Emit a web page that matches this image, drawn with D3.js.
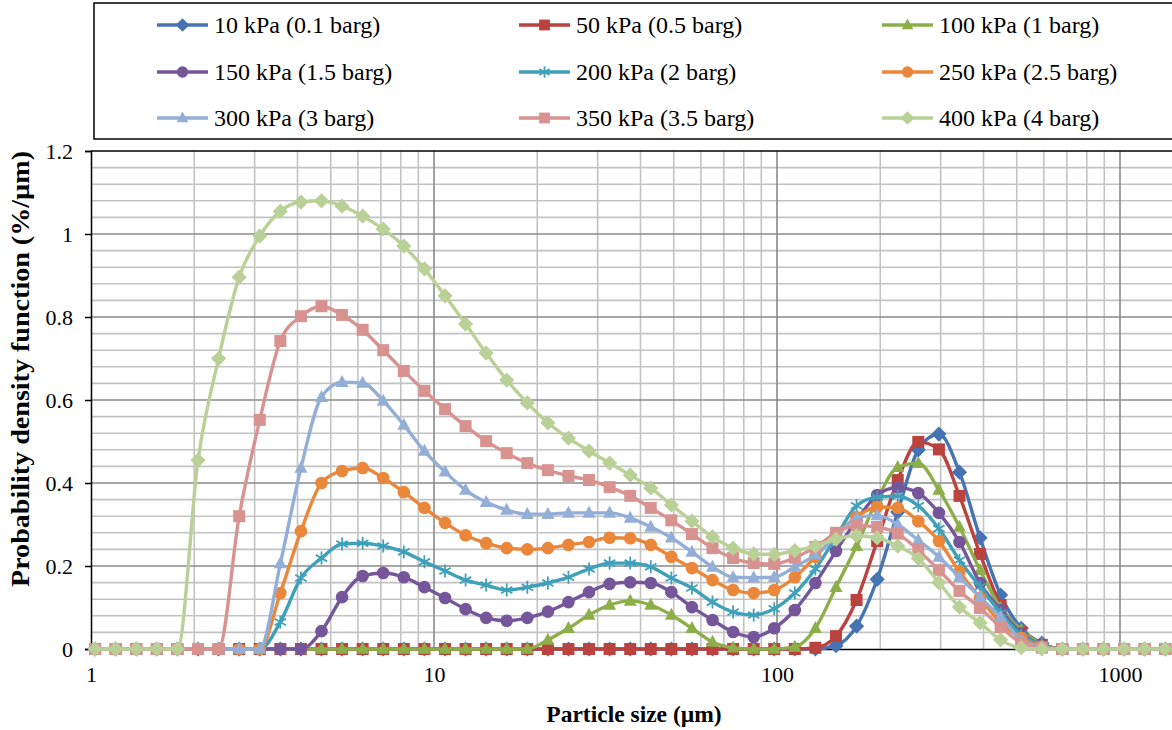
<!DOCTYPE html>
<html><head><meta charset="utf-8">
<script src="https://cdn.jsdelivr.net/npm/d3@7"></script>
<style>body{margin:0;background:#fff}svg{display:block}</style>
</head><body><svg id="c" width="1172" height="730"></svg>
<script>
// Particle sizes (µm), log-spaced instrument bins
const sizes = [1.028,1.180,1.355,1.556,1.786,2.051,2.355,2.704,3.105,3.565,4.093,4.699,5.395,6.194,7.112,8.166,9.376,10.77,12.36,14.19,16.29,18.71,21.48,24.66,28.31,32.51,37.33,42.85,49.20,56.49,64.86,74.47,85.51,98.17,112.7,129.4,148.6,170.6,195.9,224.9,258.2,296.5,340.4,390.8,448.7,515.2,591.6,679.2,779.8,895.4,1028,1180,1355];

const s10  = [0,0,0,0,0,0,0,0,0,0,0,0,0,0,0,0,0,0,0,0,0,0,0,0,0,0,0,0,0,0,0,0,0,0,0,0,0.008,0.055,0.168,0.33,0.48,0.518,0.426,0.268,0.13,0.05,0.014,0,0,0,0,0,0];
const s50  = [0,0,0,0,0,0,0,0,0,0,0,0,0,0,0,0,0,0,0,0,0,0,0,0,0,0,0,0,0,0,0,0,0,0,0,0.003,0.031,0.118,0.26,0.407,0.499,0.481,0.369,0.229,0.106,0.041,0.01,0,0,0,0,0,0];
const s100 = [0,0,0,0,0,0,0,0,0,0,0,0,0,0,0,0,0,0,0,0,0,0,0.022,0.05,0.082,0.106,0.116,0.106,0.082,0.05,0.017,0.003,0,0,0.005,0.05,0.149,0.248,0.36,0.438,0.448,0.383,0.294,0.19,0.099,0.046,0.012,0,0,0,0,0,0];
const s150 = [0,0,0,0,0,0,0,0,0,0,0,0.043,0.125,0.176,0.183,0.173,0.149,0.123,0.096,0.075,0.068,0.075,0.09,0.113,0.137,0.157,0.161,0.159,0.137,0.101,0.07,0.041,0.029,0.05,0.094,0.159,0.236,0.31,0.371,0.389,0.376,0.328,0.258,0.159,0.094,0.038,0.01,0,0,0,0,0,0];
const s200 = [0,0,0,0,0,0,0,0,0,0.065,0.171,0.219,0.253,0.255,0.248,0.234,0.21,0.188,0.166,0.154,0.142,0.149,0.159,0.173,0.193,0.207,0.207,0.198,0.171,0.147,0.113,0.089,0.082,0.097,0.135,0.193,0.27,0.345,0.366,0.368,0.345,0.29,0.214,0.15,0.087,0.034,0.01,0,0,0,0,0,0];
const s250 = [0,0,0,0,0,0,0,0,0,0.135,0.284,0.40,0.429,0.436,0.412,0.378,0.34,0.304,0.274,0.255,0.243,0.24,0.243,0.251,0.258,0.268,0.267,0.251,0.222,0.195,0.166,0.142,0.135,0.142,0.173,0.222,0.275,0.318,0.342,0.34,0.308,0.26,0.186,0.123,0.063,0.027,0.006,0,0,0,0,0,0];
const s300 = [0,0,0,0,0,0,0,0,0,0.206,0.436,0.607,0.643,0.641,0.598,0.54,0.477,0.427,0.383,0.354,0.335,0.325,0.325,0.328,0.328,0.328,0.316,0.294,0.268,0.234,0.198,0.173,0.172,0.173,0.198,0.227,0.27,0.316,0.322,0.30,0.262,0.222,0.173,0.125,0.077,0.022,0.005,0,0,0,0,0,0];
const s350 = [0,0,0,0,0,0,0,0.32,0.552,0.742,0.802,0.826,0.805,0.769,0.72,0.67,0.622,0.578,0.537,0.501,0.472,0.448,0.431,0.417,0.407,0.39,0.369,0.34,0.31,0.277,0.243,0.219,0.207,0.205,0.22,0.246,0.28,0.298,0.294,0.278,0.238,0.19,0.14,0.099,0.053,0.015,0.003,0,0,0,0,0,0];
const s400 = [0,0,0,0,0,0.455,0.70,0.896,0.995,1.055,1.077,1.08,1.067,1.043,1.012,0.971,0.916,0.851,0.783,0.713,0.648,0.593,0.545,0.508,0.477,0.448,0.419,0.388,0.347,0.308,0.27,0.243,0.229,0.228,0.237,0.248,0.265,0.273,0.268,0.248,0.218,0.16,0.101,0.063,0.022,0.003,0,0,0,0,0,0,0];

const seriesNames = ["10 kPa (0.1 barg)","50 kPa (0.5 barg)","100 kPa (1 barg)","150 kPa (1.5 barg)","200 kPa (2 barg)","250 kPa (2.5 barg)","300 kPa (3 barg)","350 kPa (3.5 barg)","400 kPa (4 barg)"];
const seriesValues = [s10,s50,s100,s150,s200,s250,s300,s350,s400];
const seriesColors = ["#4674B3","#BA4340","#8DAF4A","#76569B","#3FA0BA","#EA873A","#93AED7","#D89391","#B9D196"];
const seriesMarkers = ["diamond","square","triangle","circle","star","circle","triangle","square","diamond"];
const yTicks = [0,0.2,0.4,0.6,0.8,1,1.2];
const yTickLabels = ["0","0.2","0.4","0.6","0.8","1","1.2"];
const xTicks = [1,10,100,1000];
const xTickLabels = ["1","10","100","1000"];

const W = 1172, H = 730;
const L = 91, T = 151, B = 649, R = 1172;
const svg = d3.select("#c");
const x = d3.scaleLog().domain([1,1000]).range([L,1120]);
const y = d3.scaleLinear().domain([0,1.2]).range([B,T]);
const FONT = "'Liberation Serif','Times New Roman',serif";

// gridlines
const g = svg.append("g");
const minorY = d3.range(0, 61).map(i => i*0.04).filter(v => v <= 1.2001 && Math.abs(v/0.2 - Math.round(v/0.2)) > 1e-6);
g.selectAll("line.my").data(minorY).enter().append("line")
  .attr("x1",L).attr("x2",R).attr("y1",d=>y(d)).attr("y2",d=>y(d))
  .attr("stroke","#C3C3C3").attr("stroke-width",1.6);
const minorX = [];
[1,10,100,1000].forEach(d => { for (let m=2;m<=9;m++){ const v=d*m; if (x(v) <= R) minorX.push(v);} });
g.selectAll("line.mx").data(minorX).enter().append("line")
  .attr("x1",d=>x(d)).attr("x2",d=>x(d)).attr("y1",T).attr("y2",B)
  .attr("stroke","#C3C3C3").attr("stroke-width",1.6);
g.selectAll("line.My").data(yTicks.slice(1,-1)).enter().append("line")
  .attr("x1",L).attr("x2",R).attr("y1",d=>y(d)).attr("y2",d=>y(d))
  .attr("stroke","#8A8A8A").attr("stroke-width",1.6);
g.selectAll("line.Mx").data(xTicks.slice(1)).enter().append("line")
  .attr("x1",d=>x(d)).attr("x2",d=>x(d)).attr("y1",T).attr("y2",B)
  .attr("stroke","#8A8A8A").attr("stroke-width",1.6);
// top border
g.append("line").attr("x1",L).attr("x2",R).attr("y1",T).attr("y2",T).attr("stroke","#000").attr("stroke-width",1.5);

// axes
const yAxis = svg.append("g").attr("transform",`translate(${L},0)`)
  .call(d3.axisLeft(y).tickValues(yTicks).tickFormat((d,i)=>yTickLabels[i]).tickSize(6).tickPadding(12));
const xAxis = svg.append("g").attr("transform",`translate(0,${B})`)
  .call(d3.axisBottom(x).tickValues(xTicks).tickFormat((d,i)=>xTickLabels[i]).tickSize(0).tickPadding(17));
[yAxis,xAxis].forEach(a => {
  a.select(".domain").attr("stroke","#000").attr("stroke-width",1.5);
  a.selectAll(".tick line").attr("stroke","#000").attr("stroke-width",1.5);
  a.selectAll("text").attr("font-family",FONT).attr("font-size",22).attr("fill","#000");
});

// marker drawing
function drawMarker(sel, type, color, s) {
  s = s || 1;
  if (type === "circle") {
    sel.append("circle").attr("r",6.3*s).attr("fill",color);
  } else if (type === "square") {
    sel.append("rect").attr("x",-6*s).attr("y",-6*s).attr("width",12*s).attr("height",12*s).attr("fill",color);
  } else if (type === "diamond") {
    const a = 7.6*s;
    sel.append("path").attr("d",`M0,${-a}L${a},0L0,${a}L${-a},0Z`).attr("fill",color);
  } else if (type === "triangle") {
    const h = 12*s, w = 13*s;
    sel.append("path").attr("d",`M0,${-h*0.6}L${w/2},${h*0.4}L${-w/2},${h*0.4}Z`).attr("fill",color);
  } else if (type === "star") {
    const a = 6.5*s;
    sel.append("path").attr("d",`M0,${-a}L0,${a}M${-a*0.87},${-a*0.5}L${a*0.87},${a*0.5}M${-a*0.87},${a*0.5}L${a*0.87},${-a*0.5}`)
      .attr("stroke",color).attr("stroke-width",1.8).attr("fill","none");
  }
}

// series
const line = d3.line().x((d,i)=>x(sizes[i])).y(d=>y(d)).curve(d3.curveMonotoneX);
const plot = svg.append("g");
seriesValues.forEach((vals, si) => {
  const sg = plot.append("g");
  sg.append("path").attr("d", line(vals)).attr("fill","none")
    .attr("stroke", seriesColors[si]).attr("stroke-width",3.4).attr("stroke-linejoin","round");
  vals.forEach((v,i) => {
    const mg = sg.append("g").attr("transform",`translate(${x(sizes[i])},${y(v)})`);
    drawMarker(mg, seriesMarkers[si], seriesColors[si]);
  });
});

// legend
const lg = svg.append("g");
lg.append("rect").attr("x",94).attr("y",3).attr("width",1200).attr("height",136)
  .attr("fill","#fff").attr("stroke","#000").attr("stroke-width",1.5);
const colX = [157,519,882], rowY = [25,72,118];
seriesNames.forEach((name, si) => {
  const cx = colX[si%3], cy = rowY[Math.floor(si/3)];
  const e = lg.append("g");
  e.append("line").attr("x1",cx).attr("x2",cx+51).attr("y1",cy).attr("y2",cy)
    .attr("stroke",seriesColors[si]).attr("stroke-width",3.4);
  const mg = e.append("g").attr("transform",`translate(${cx+25.5},${cy})`);
  drawMarker(mg, seriesMarkers[si], seriesColors[si], 0.9);
  e.append("text").attr("x",cx+57).attr("y",cy).attr("dy","0.35em")
    .attr("font-family",FONT).attr("font-size",24).attr("fill","#000").text(name);
});

// axis titles
svg.append("text").attr("x",634).attr("y",714).attr("dy","0.35em").attr("text-anchor","middle")
  .attr("font-family",FONT).attr("font-weight","bold").attr("font-size",23.5).text("Particle size (µm)");
svg.append("text").attr("transform","translate(20,369) rotate(-90)").attr("dy","0.35em").attr("text-anchor","middle")
  .attr("font-family",FONT).attr("font-weight","bold").attr("font-size",25).attr("textLength",436).attr("lengthAdjust","spacingAndGlyphs")
  .text("Probability density function (%/µm)");
</script></body></html>
